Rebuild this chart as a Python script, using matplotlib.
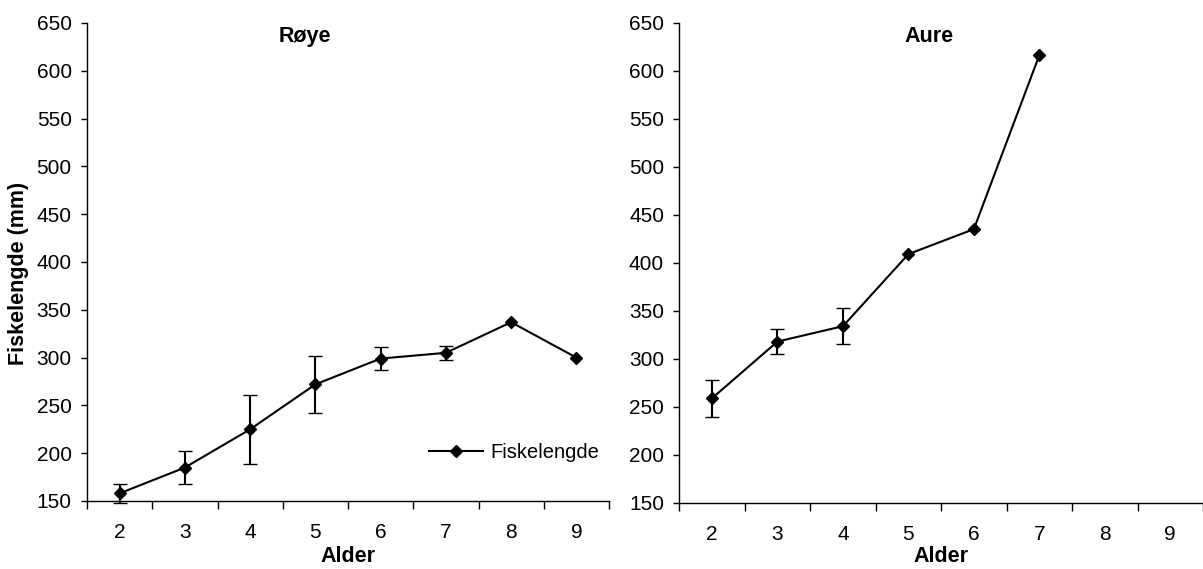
import matplotlib
matplotlib.use("Agg")
import matplotlib.pyplot as plt
from matplotlib.ticker import FixedLocator, NullFormatter
from matplotlib.lines import Line2D

plt.rcParams['font.family'] = ['Liberation Sans', 'DejaVu Sans']

# Data
ages = [2, 3, 4, 5, 6, 7, 8, 9]
roye_ages = [2, 3, 4, 5, 6, 7, 8, 9]
roye_mean = [158, 185, 225, 272, 299, 305, 337, 300]
roye_err = [10, 17, 36, 30, 12, 7, 0, 0]
aure_ages = [2, 3, 4, 5, 6, 7]
aure_mean = [259, 318, 334, 409, 435, 616]
aure_err = [19, 13, 19, 0, 0, 0]
yticks = [150, 200, 250, 300, 350, 400, 450, 500, 550, 600, 650]
titles = ["Røye", "Aure"]
xlabel = "Alder"
ylabel = "Fiskelengde (mm)"
legend_label = "Fiskelengde"

W, H = 1203, 569
fig = plt.figure(figsize=(W / 100, H / 100), dpi=100)

ax1 = fig.add_axes([87 / W, 1 - 501 / H, (609 - 87) / W, (501 - 23) / H])
ax2 = fig.add_axes([679.3 / W, 1 - 503 / H, (1203 - 679.3) / W, (503 - 22.5) / H])


def style(ax):
    ax.set_xlim(1.5, 9.5)
    ax.set_ylim(150, 650)
    ax.set_yticks(yticks)
    ax.set_xticks(ages)
    ax.xaxis.set_minor_locator(FixedLocator([a - 0.5 for a in ages] + [ages[-1] + 0.5]))
    ax.xaxis.set_minor_formatter(NullFormatter())
    ax.tick_params(axis='x', which='major', length=0, pad=16, labelsize=15)
    ax.tick_params(axis='x', which='minor', length=5.5, width=1.0, direction='out')
    ax.tick_params(axis='y', which='major', length=4, width=1.0, direction='out', pad=7, labelsize=15)
    for s in ['top', 'right']:
        ax.spines[s].set_visible(False)
    for s in ['left', 'bottom']:
        ax.spines[s].set_linewidth(1.0)
    ax.patch.set_visible(False)


style(ax1)
style(ax2)

common = dict(color='black', marker='D', markersize=6.5, markeredgewidth=1,
              linewidth=1.5, elinewidth=1.5, capsize=5.3, capthick=1.5, clip_on=False)

re = [e if e > 0 else float('nan') for e in roye_err]
ae = [e if e > 0 else float('nan') for e in aure_err]
ax1.errorbar(roye_ages, roye_mean, yerr=re, **common)
ax2.errorbar(aure_ages, aure_mean, yerr=ae, **common)

handle = Line2D([], [], color='black', marker='D', markersize=6.5, markeredgewidth=1, linewidth=1.5)
ax1.legend([handle], [legend_label], loc='center left',
           bbox_to_anchor=((429 - 87) / 522, (501 - 453) / 478),
           frameon=False, fontsize=14.5, handlelength=2.7, handletextpad=0.35,
           borderaxespad=0, borderpad=0)

fig.text(305 / W, 1 - 41.7 / H, titles[0], ha='center', va='baseline', fontsize=15.5, fontweight='bold')
fig.text(929 / W, 1 - 41.7 / H, titles[1], ha='center', va='baseline', fontsize=15.5, fontweight='bold')
fig.text(348 / W, 1.5 / H, xlabel, ha='center', va='bottom', fontsize=15.5, fontweight='bold')
fig.text(941 / W, 1.5 / H, xlabel, ha='center', va='bottom', fontsize=15.5, fontweight='bold')
fig.text(19 / W, 1 - 273 / H, ylabel, ha='center', va='center', rotation=90, fontsize=15.5, fontweight='bold')

fig.savefig("out.png", dpi=100)
